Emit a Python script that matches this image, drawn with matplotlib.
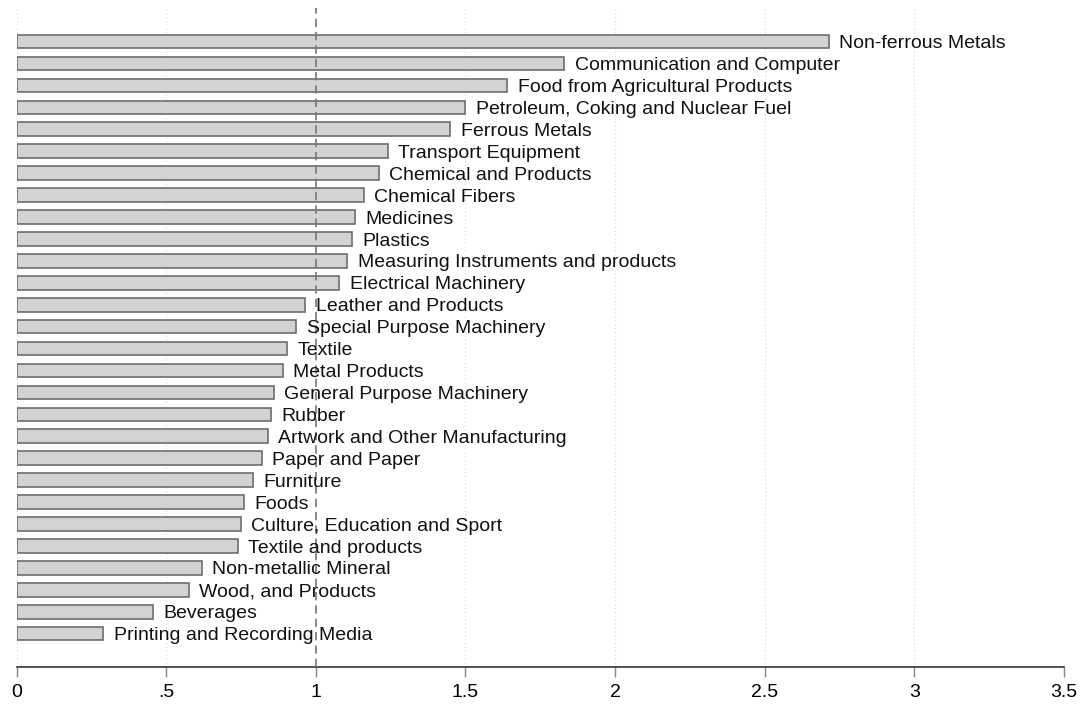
import matplotlib
matplotlib.use("Agg")
import matplotlib.pyplot as plt

plt.rcParams['font.family'] = ['Liberation Sans', 'DejaVu Sans']

categories = [
    "Non-ferrous Metals", "Communication and Computer", "Food from Agricultural Products",
    "Petroleum, Coking and Nuclear Fuel", "Ferrous Metals", "Transport Equipment",
    "Chemical and Products", "Chemical Fibers", "Medicines", "Plastics",
    "Measuring Instruments and products", "Electrical Machinery", "Leather and Products",
    "Special Purpose Machinery", "Textile", "Metal Products", "General Purpose Machinery",
    "Rubber", "Artwork and Other Manufacturing", "Paper and Paper", "Furniture", "Foods",
    "Culture, Education and Sport", "Textile and products", "Non-metallic Mineral",
    "Wood, and Products", "Beverages", "Printing and Recording Media",
]
values = [
    2.715, 1.83, 1.64, 1.50, 1.45, 1.24, 1.21, 1.16, 1.13, 1.12,
    1.105, 1.078, 0.965, 0.935, 0.905, 0.89, 0.86, 0.85, 0.84, 0.82,
    0.79, 0.76, 0.75, 0.74, 0.62, 0.575, 0.455, 0.29,
]
xticks = [0, 0.5, 1, 1.5, 2, 2.5, 3, 3.5]
xticklabels = ["0", ".5", "1", "1.5", "2", "2.5", "3", "3.5"]

fig = plt.figure(figsize=(10.83, 7.05), dpi=100)
ax = fig.add_axes([16.5 / 1083, 1 - 667 / 705, (1064 - 16.5) / 1083, (667 - 8) / 705])

ypos = list(range(len(categories)))
ax.barh(ypos, values, height=0.62, color='#d3d3d3', edgecolor='#6e6e6e', linewidth=1.2, zorder=2)

for y, v, c in zip(ypos, values, categories):
    ax.annotate(c, xy=(v, y), xytext=(7.5, -1.5), textcoords='offset points',
                va='center', ha='left', fontsize=14, color='#111111', zorder=4)

for g in [0, 0.5, 1.5, 2, 2.5, 3]:
    ax.axvline(g, color='#d8d8d8', linestyle=(0, (1, 2.5)), linewidth=0.8, zorder=1)
ax.axvline(1, color='#777777', linestyle=(0, (5, 3)), linewidth=1.2, zorder=3)

ax.set_xlim(0, 3.5)
ax.set_ylim(len(categories) - 1 + 1.52, -1.53)
ax.set_xticks(xticks)
ax.set_xticklabels(xticklabels, fontsize=14)
ax.set_yticks([])
for s in ['top', 'right', 'left']:
    ax.spines[s].set_visible(False)
ax.spines['bottom'].set_color('#333333')
ax.spines['bottom'].set_linewidth(1.2)
ax.tick_params(axis='x', length=7, width=1.0, color='#888888', pad=5)

fig.savefig("out.png", dpi=100)
